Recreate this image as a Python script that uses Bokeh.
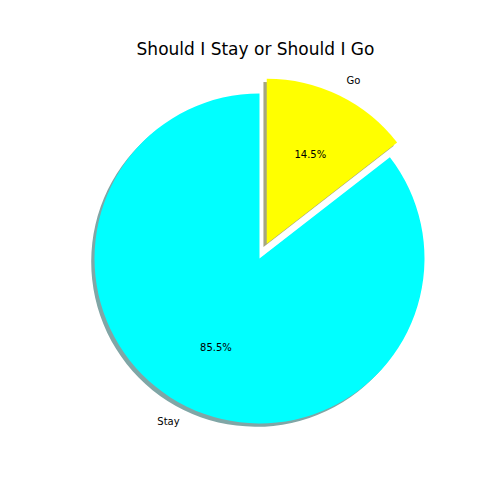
import math
from bokeh.plotting import figure
from bokeh.models import Range1d, Label, ColumnDataSource
from bokeh.embed import file_html
from bokeh.resources import INLINE
from bokeh.core.properties import value

# ---- data ----
labels = ["Stay", "Go"]
values = [85.5, 14.5]
explode = [0.0, 0.1]
colors = ["#00ffff", "#ffff00"]
shadow_colors = ["#80a6a6", "#a6a680"]
title_text = "Should I Stay or Should I Go"
start_deg = 90.0

# ---- layout (pixels) ----
W = H = 504
CX, CY = 259.0, 258.0   # pie centre in screen px
R = 165.0               # radius in px

p = figure(width=W, height=H, output_backend="svg", toolbar_location=None,
           min_border=0, x_range=Range1d(-CX / R, (W - CX) / R),
           y_range=Range1d(-(H - CY) / R, CY / R))
p.axis.visible = False
p.grid.visible = False
p.outline_line_color = None
p.background_fill_color = "white"

total = sum(values)
starts, ends, xs, ys, mids = [], [], [], [], []
a = math.radians(start_deg)
for v, e in zip(values, explode):
    span = 2 * math.pi * v / total
    mid = a + span / 2
    starts.append(a)
    ends.append(a + span)
    xs.append(e * math.cos(mid))
    ys.append(e * math.sin(mid))
    mids.append(mid)
    a += span

shadow = ColumnDataSource(dict(x=[x - 0.02 for x in xs], y=[y - 0.02 for y in ys],
                               s=starts, e=ends, c=shadow_colors))
p.wedge(x="x", y="y", radius=1.0, start_angle="s", end_angle="e",
        fill_color="c", fill_alpha=1.0, line_color=None, source=shadow)

src = ColumnDataSource(dict(x=xs, y=ys, s=starts, e=ends, c=colors))
p.wedge(x="x", y="y", radius=1.0, start_angle="s", end_angle="e",
        fill_color="c", line_color=None, source=src)

# labels and percentages
lx, ly, lalign, px_, py_, ptxt = [], [], [], [], [], []
for i, (lab, v) in enumerate(zip(labels, values)):
    m = mids[i]
    lx.append(xs[i] + 1.1 * math.cos(m))
    ly.append(ys[i] + 1.1 * math.sin(m))
    lalign.append("left" if math.cos(m) > 0 else "right")
    px_.append(xs[i] + 0.6 * math.cos(m))
    py_.append(ys[i] + 0.6 * math.sin(m))
    ptxt.append("%.1f%%" % (100 * v / total))

p.text(x=lx, y=ly, text=labels, text_align=lalign, text_baseline="middle",
       text_font=value("DejaVu Sans"), text_font_size="10px", text_color="black")
p.text(x=px_, y=py_, text=ptxt, text_align="center", text_baseline="middle",
       text_font=value("DejaVu Sans"), text_font_size="10px", text_color="black")

p.add_layout(Label(x=255, y=H - 48, x_units="screen", y_units="screen",
                   text=title_text, text_align="center", text_baseline="middle",
                   text_font="DejaVu Sans", text_font_size="17px",
                   text_color="black"))

open("out.html", "w").write(file_html(p, INLINE))
